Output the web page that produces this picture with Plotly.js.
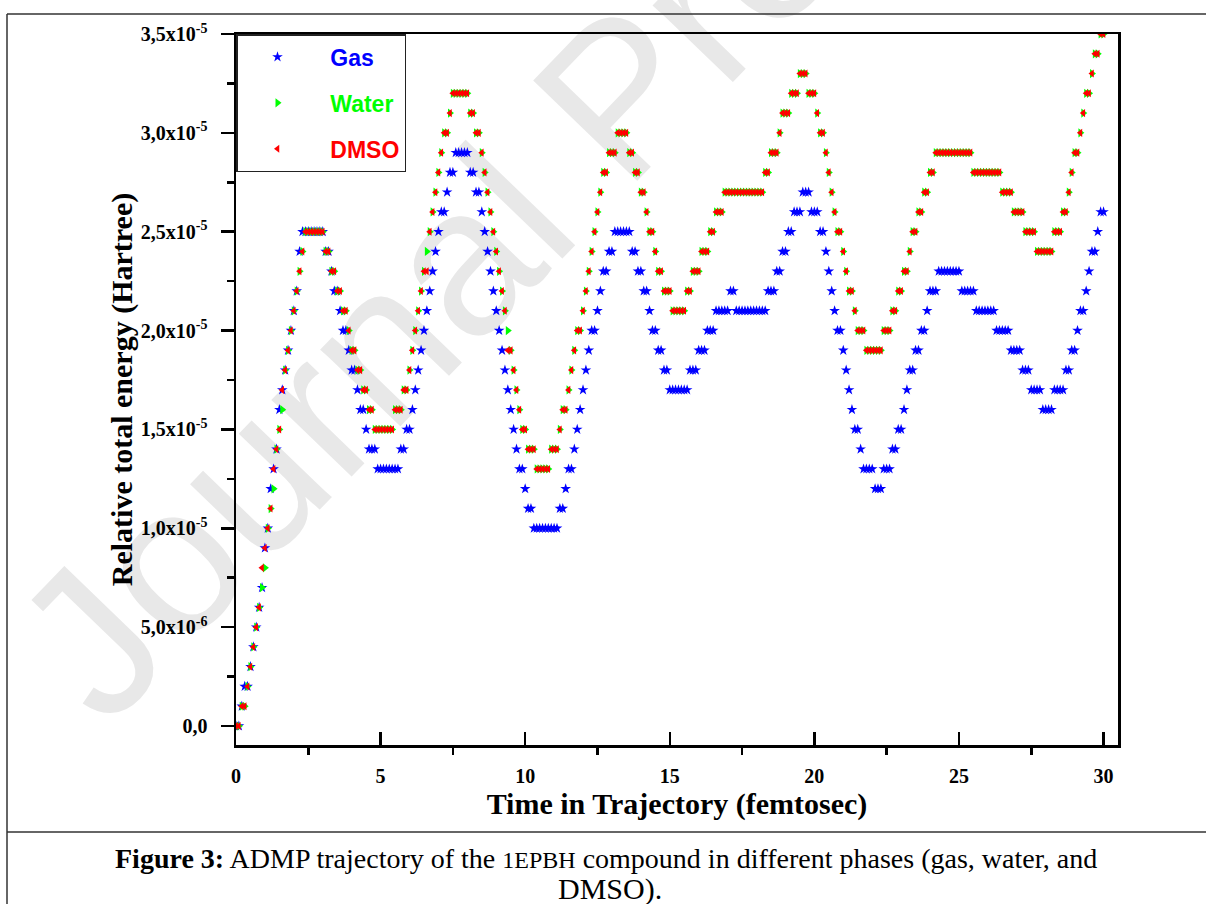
<!DOCTYPE html>
<html><head><meta charset="utf-8">
<script src="https://cdn.plot.ly/plotly-3.0.1.min.js"></script>
<style>
html,body{margin:0;padding:0;background:#fff;}
#wrap{position:relative;width:1206px;height:904px;overflow:hidden;background:#fff;}
#wm{position:absolute;left:115px;top:550px;font-family:"Liberation Sans",Arial,sans-serif;font-size:210px;color:#e8e8e8;white-space:nowrap;transform-origin:0 189px;transform:rotate(-46deg);line-height:1;}
#chart{position:absolute;left:0;top:0;width:1206px;height:904px;}
</style></head>
<body><div id="wrap"><div id="wm">Journal Pre-proof</div><div id="chart"></div></div>
<script>
// Time grid (fs): one sample every 0.1 fs from 0 to 30
const timeStart = 0, timeStep = 0.1;
// Relative total energy, in units of 1e-6 Hartree
const gasEnergy = [
0,0,1,2,2,3,4,5,6,7,
9,10,12,13,14,16,17,18,19,20,
21,22,24,25,25,25,25,25,25,25,
25,24,24,23,22,22,21,20,20,19,
18,18,17,16,16,15,14,14,14,13,
13,13,13,13,13,13,13,14,14,15,
15,16,17,18,19,20,21,22,23,24,
25,26,26,27,28,28,29,29,29,29,
29,28,28,27,27,26,25,24,23,22,
21,20,19,18,17,16,15,14,13,13,
12,11,11,10,10,10,10,10,10,10,
10,10,11,11,12,13,13,14,15,16,
17,18,19,20,20,21,22,23,23,24,
24,25,25,25,25,25,25,24,24,23,
23,22,22,21,20,20,19,19,18,18,
17,17,17,17,17,17,17,18,18,18,
19,19,19,20,20,20,21,21,21,21,
21,22,22,21,21,21,21,21,21,21,
21,21,21,21,22,22,22,23,23,24,
24,25,25,26,26,26,27,27,27,26,
26,26,25,25,24,23,22,21,20,20,
19,18,17,16,15,15,14,13,13,13,
13,12,12,12,13,13,13,14,14,15,
15,16,17,18,18,19,19,20,20,21,
22,22,22,23,23,23,23,23,23,23,
23,22,22,22,22,22,21,21,21,21,
21,21,21,20,20,20,20,20,19,19,
19,19,18,18,18,17,17,17,17,16,
16,16,16,17,17,17,17,18,18,19,
19,20,21,21,22,23,24,24,25,26,26];
const waterEnergy = [
0,0,1,1,2,3,4,5,6,7,
8,10,11,12,14,15,16,18,19,20,
21,22,23,24,25,25,25,25,25,25,
25,24,24,23,23,22,22,21,21,20,
19,19,18,18,17,17,16,16,15,15,
15,15,15,15,15,16,16,16,17,17,
18,19,20,21,22,23,24,25,26,27,
28,29,30,30,31,32,32,32,32,32,
32,31,31,30,30,29,28,27,26,25,
24,23,22,21,20,19,18,17,16,15,
15,14,14,14,13,13,13,13,13,14,
14,14,15,16,16,17,18,19,20,20,
21,22,23,24,25,26,27,28,28,29,
29,29,30,30,30,30,29,29,28,28,
27,27,26,25,25,24,23,23,22,22,
22,21,21,21,21,21,22,22,23,23,
23,24,24,24,25,25,26,26,26,27,
27,27,27,27,27,27,27,27,27,27,
27,27,27,28,28,29,29,29,30,31,
31,31,32,32,32,33,33,33,32,32,
32,31,30,30,29,28,27,26,25,25,
24,23,22,22,21,20,20,20,19,19,
19,19,19,19,20,20,20,21,21,22,
22,23,23,24,25,25,26,26,27,27,
28,28,29,29,29,29,29,29,29,29,
29,29,29,29,29,28,28,28,28,28,
28,28,28,28,28,27,27,27,27,26,
26,26,26,25,25,25,25,24,24,24,
24,24,24,25,25,25,26,26,27,28,
29,29,30,31,32,32,33,34,34,35,35];
const dmsoEnergy = [
0,0,1,1,2,3,4,5,6,8,
9,10,11,13,14,15,17,18,19,20,
21,22,23,24,25,25,25,25,25,25,
25,24,24,23,23,22,22,21,21,20,
19,19,18,18,17,17,16,16,15,15,
15,15,15,15,15,16,16,16,17,17,
18,19,20,21,22,23,23,25,26,27,
28,29,30,30,31,32,32,32,32,32,
32,31,31,30,30,29,28,27,26,25,
24,23,22,21,19,19,18,17,16,15,
15,14,14,14,13,13,13,13,13,14,
14,14,15,16,16,17,18,19,20,20,
21,22,23,24,25,26,27,28,28,29,
29,29,30,30,30,30,29,29,28,28,
27,27,26,25,25,24,23,23,22,22,
22,21,21,21,21,21,22,22,23,23,
23,24,24,24,25,25,26,26,26,27,
27,27,27,27,27,27,27,27,27,27,
27,27,27,28,28,29,29,29,30,31,
31,31,32,32,32,33,33,33,32,32,
32,31,30,30,29,28,27,26,25,25,
24,23,22,22,21,20,20,20,19,19,
19,19,19,19,20,20,20,21,21,22,
22,23,23,24,25,25,26,26,27,27,
28,28,29,29,29,29,29,29,29,29,
29,29,29,29,29,28,28,28,28,28,
28,28,28,28,28,27,27,27,27,26,
26,26,26,25,25,25,25,24,24,24,
24,24,24,25,25,25,26,26,27,28,
29,29,30,31,32,32,33,34,34,35,35];
const energyUnit = 1e-6;

const xTickVals = [0,5,10,15,20,25,30];
const xMinorVals = [2.5,7.5,12.5,17.5,22.5,27.5];
const yTickVals = [0,5e-6,1e-5,1.5e-5,2e-5,2.5e-5,3e-5,3.5e-5];
const yTickText = ["0,0","5,0x10<sup>-6</sup>","1,0x10<sup>-5</sup>","1,5x10<sup>-5</sup>","2,0x10<sup>-5</sup>","2,5x10<sup>-5</sup>","3,0x10<sup>-5</sup>","3,5x10<sup>-5</sup>"];
const yMinorVals = [2.5e-6,7.5e-6,1.25e-5,1.75e-5,2.25e-5,2.75e-5,3.25e-5];

const tOf = arr => arr.map((_, i) => +(timeStart + i * timeStep).toFixed(1));
const eOf = arr => arr.map(v => v * energyUnit);

const traces = [
  {x:tOf(gasEnergy), y:eOf(gasEnergy), type:'scatter', mode:'markers', name:'&nbsp;&nbsp;<span style="color:#0000ff">Gas</span>',
   legendgroup:'g', marker:{symbol:'star', size:8, color:'#0000ff', line:{width:0}}},
  {x:tOf(waterEnergy), y:eOf(waterEnergy), type:'scatter', mode:'markers', name:'&nbsp;&nbsp;<span style="color:#00ff00">Water</span>',
   legendgroup:'w', marker:{symbol:'triangle-right', size:8, color:'#00ff00', line:{width:0}}},
  {x:tOf(dmsoEnergy), y:eOf(dmsoEnergy), type:'scatter', mode:'markers', name:'&nbsp;&nbsp;<span style="color:#ff0000">DMSO</span>',
   legendgroup:'d', marker:{symbol:'triangle-left', size:7, color:'#ff0000', line:{width:0}}}
];

const L = 236, T = 34, R = 1118, B = 745;
const px = v => (v - L) / (R - L);
const py = v => (B - v) / (B - T);
const frame = {color:'#333', width:1.5};

const layout = {
  width:1206, height:904,
  margin:{l:L, r:1206-R, t:T, b:904-B, pad:0},
  paper_bgcolor:'rgba(0,0,0,0)', plot_bgcolor:'rgba(0,0,0,0)',
  showlegend:true,
  xaxis:{range:[0,30.5], tickmode:'array', tickvals:xTickVals, ticktext:xTickVals.map(String),
    ticks:'inside', ticklen:13, tickwidth:2.5, tickcolor:'#000',
    showline:true, linewidth:2.5, linecolor:'#000', mirror:true, showgrid:false, zeroline:false,
    ticklabelstandoff:11,
    tickfont:{family:'Liberation Serif', size:20, color:'#000', weight:'bold'},
    minor:{tickmode:'array', tickvals:xMinorVals, ticks:'outside', ticklen:7, tickwidth:2.5, tickcolor:'#000', showgrid:false},
    title:{text:'<b>Time in Trajectory (femtosec)</b>', font:{family:'Liberation Serif', size:30, color:'#000'}, standoff:0}},
  yaxis:{range:[-0.96e-6,3.5e-5], tickmode:'array', tickvals:yTickVals, ticktext:yTickText,
    ticks:'outside', ticklen:13, tickwidth:2.5, tickcolor:'#000',
    showline:true, linewidth:2.5, linecolor:'#000', mirror:true, showgrid:false, zeroline:false,
    ticklabelstandoff:9,
    tickfont:{family:'Liberation Serif', size:20, color:'#000', weight:'bold'},
    minor:{tickmode:'array', tickvals:yMinorVals, ticks:'outside', ticklen:7, tickwidth:2.5, tickcolor:'#000', showgrid:false},
    title:{text:'<b>Relative total energy (Hartree)</b>', font:{family:'Liberation Serif', size:30, color:'#000'}, standoff:0}},
  legend:{x:0, y:1, xanchor:'left', yanchor:'top', bgcolor:'#fff', bordercolor:'#222', borderwidth:1.5,
    font:{family:'Liberation Sans', size:23, weight:'bold'}, traceorder:'grouped', tracegroupgap:13, itemwidth:70},
  shapes:[
    {type:'line', xref:'paper', yref:'paper', x0:px(7), x1:px(1210), y0:py(14), y1:py(14), line:frame},
    {type:'line', xref:'paper', yref:'paper', x0:px(7), x1:px(7), y0:py(14), y1:py(910), line:frame},
    {type:'line', xref:'paper', yref:'paper', x0:px(7), x1:px(1210), y0:py(832), y1:py(832), line:frame}
  ],
  annotations:[
    {xref:'paper', yref:'paper', x:px(606), y:py(858), xanchor:'center', yanchor:'middle', showarrow:false,
     text:'<b>Figure 3:</b> ADMP trajectory of the <span style="font-size:24px">1EPBH</span> compound in different phases (gas, water, and',
     font:{family:'Liberation Serif', size:28, color:'#000'}},
    {xref:'paper', yref:'paper', x:px(610), y:py(889), xanchor:'center', yanchor:'middle', showarrow:false,
     text:'DMSO).', font:{family:'Liberation Serif', size:30, color:'#000'}}
  ]
};

Plotly.newPlot('chart', traces, layout, {displayModeBar:false, staticPlot:true});
</script>
</body></html>
